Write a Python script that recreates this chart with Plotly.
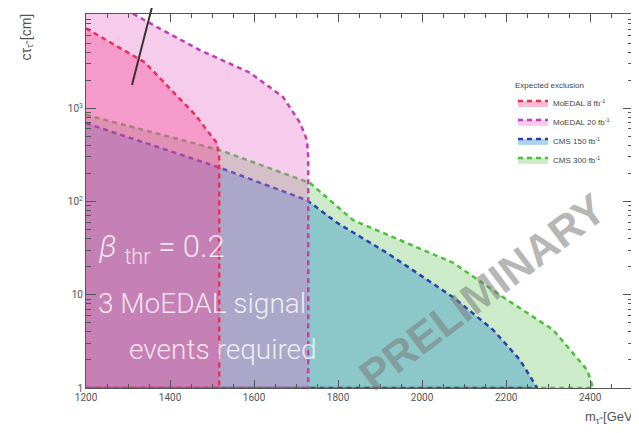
import plotly.graph_objects as go

# ---- data ----
red_x = [1200, 1340, 1460, 1512, 1517, 1517]
red_y = [7200, 3100, 850, 420, 300, 1]

mag_x = [1200, 1352, 1471, 1590, 1669, 1710, 1726, 1729, 1729]
mag_y = [20000, 8150, 4200, 2400, 1320, 690, 455, 300, 1]

blue_x = [1200, 1519, 1726, 1798, 1917, 2074, 2169, 2233, 2274]
blue_y = [690, 230, 103, 59, 28, 9.4, 4.2, 2.0, 1]

green_x = [1200, 1519, 1733, 1836, 2074, 2193, 2312, 2393, 2407]
green_y = [850, 355, 158, 63, 22, 9.4, 4.2, 1.56, 1]

x_ticks = [1200, 1400, 1600, 1800, 2000, 2200, 2400]
y_ticks = [1, 10, 100, 1000]
y_ticktext = ["1", "10", "10<sup>2</sup>", "10<sup>3</sup>"]
y_minor = [k * 10 ** n for n in range(4) for k in range(2, 10)]

series = [
    # name, x, y, line colour, fill colour, legend rank
    ("CMS 300 fb<sup>-1</sup>", green_x, green_y, "#4cbf3c", "rgba(110,200,100,0.35)", 4),
    ("CMS 150 fb<sup>-1</sup>", blue_x, blue_y, "#2f3fb0", "rgba(21,133,200,0.35)", 3),
    ("MoEDAL 20 fb<sup>-1</sup>", mag_x, mag_y, "#c33fb0", "rgba(230,110,200,0.35)", 2),
    ("MoEDAL 8 fb<sup>-1</sup>", red_x, red_y, "#e8305a", "rgba(246,58,144,0.35)", 1),
]

fig = go.Figure()
for name, xs, ys, lc, fc, rank in series:
    # close each exclusion region along the bottom edge of the plot
    px = list(xs) + [xs[-1], xs[0]]
    py = list(ys) + [1, 1]
    fig.add_trace(go.Scatter(
        x=px, y=py, mode="lines", name=name, legendrank=rank,
        fill="toself", fillcolor=fc,
        line=dict(color=lc, width=2.5, dash="5px,4px"),
    ))

# page is drawn with an 8px body offset in the browser
OFF = 8
W, H = 639 - OFF, 433 - OFF
# plot-area edges in screen pixels
SL, SR, ST, SB = 86, 633, 14, 388
L, T = SL - OFF, ST - OFF
R, B = W - (SR - OFF), H - (SB - OFF)
pw, ph = SR - SL, SB - ST

def pxx(v):
    return (v - SL) / pw

def pxy(v):
    return (SB - v) / ph

fig.update_layout(
    width=W, height=H,
    margin=dict(l=L, r=R, t=T, b=B),
    plot_bgcolor="white", paper_bgcolor="white",
    showlegend=True,
    legend=dict(
        title=dict(text="Expected exclusion", font=dict(size=8, color="#444")),
        x=pxx(513), y=pxy(78), xanchor="left", yanchor="top",
        font=dict(size=8, color="#444", family="Liberation Sans"),
        bgcolor="rgba(0,0,0,0)", itemwidth=30, tracegroupgap=0,
    ),
    xaxis=dict(
        range=[1200, 2502], tickvals=x_ticks, ticks="inside", ticklen=8,
        tickcolor="#555", showline=True, linecolor="#555", linewidth=1,
        mirror="ticks", showgrid=False, zeroline=False,
        tickfont=dict(size=10, color="#555", family="Roboto"),
        minor=dict(ticks="inside", ticklen=4, dtick=50, tickcolor="#555"),
    ),
    yaxis=dict(
        type="log", range=[0, 4.01], tickvals=y_ticks, ticktext=y_ticktext,
        ticks="inside", ticklen=10, tickcolor="#555", showline=True,
        linecolor="#555", linewidth=1, mirror="ticks", showgrid=False,
        zeroline=False,
        tickfont=dict(size=10, color="#555", family="Roboto"),
        minor=dict(ticks="inside", ticklen=5, tickcolor="#555", tickvals=y_minor),
    ),
    font=dict(family="Liberation Sans"),
)

txt_col = "rgba(255,255,255,0.8)"
tfont = "Roboto"
fig.add_annotation(xref="paper", yref="paper", x=pxx(97), y=pxy(248),
                   xanchor="left", yanchor="middle", showarrow=False,
                   text="<i>β</i> <sub>thr</sub> = 0.2",
                   font=dict(size=31, color=txt_col, family=tfont, weight=300))
fig.add_annotation(xref="paper", yref="paper", x=pxx(96), y=pxy(303),
                   xanchor="left", yanchor="middle", showarrow=False,
                   text="3 MoEDAL signal",
                   font=dict(size=28, color=txt_col, family=tfont, weight=300))
fig.add_annotation(xref="paper", yref="paper", x=pxx(127), y=pxy(349),
                   xanchor="left", yanchor="middle", showarrow=False,
                   text="events required",
                   font=dict(size=28, color=txt_col, family=tfont, weight=300))
fig.add_annotation(xref="paper", yref="paper", x=pxx(482), y=pxy(292),
                   xanchor="center", yanchor="middle", showarrow=False,
                   text="<b>PRELIMINARY</b>", textangle=-37,
                   font=dict(size=43, color="rgba(120,120,120,0.55)",
                             family="Liberation Sans"))
# axis titles
fig.add_annotation(xref="paper", yref="paper", x=pxx(583), y=pxy(417),
                   xanchor="left", yanchor="middle", showarrow=False,
                   text="m<sub>τ̃</sub> [GeV]",
                   font=dict(size=13, color="#555"))
fig.add_annotation(xref="paper", yref="paper", x=pxx(27), y=pxy(12),
                   xanchor="center", yanchor="top", showarrow=False,
                   text="cτ<sub>τ̃</sub> [cm]", textangle=-90,
                   font=dict(size=14, color="#555"))
# pointer line from the (cropped) top label
fig.add_shape(type="line", xref="paper", yref="paper",
              x0=pxx(153), y0=pxy(3), x1=pxx(132), y1=pxy(85),
              line=dict(color="#333", width=2))

fig.write_html("out.html")
